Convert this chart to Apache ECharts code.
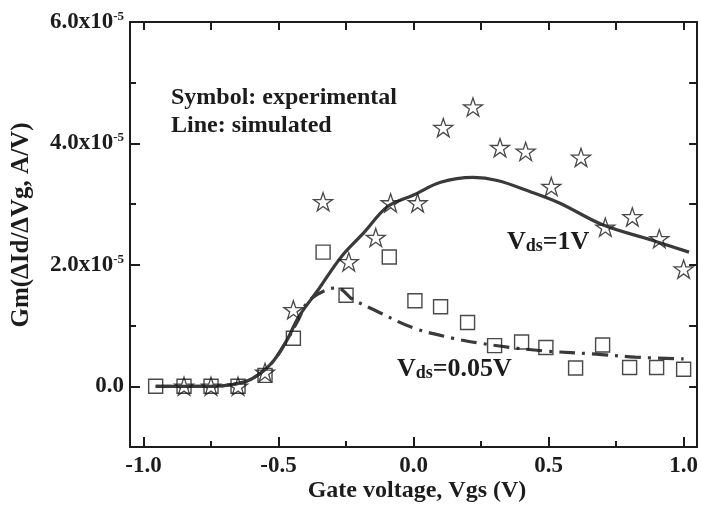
<!DOCTYPE html>
<html><head><meta charset="utf-8">
<script src="https://cdn.jsdelivr.net/npm/echarts@6/dist/echarts.min.js"></script>
<style>html,body{margin:0;padding:0;background:#fff}#c{width:701px;height:510px}</style>
</head><body><div id="c"></div>
<script>
// Experimental points, Vds = 1 V (stars)
const vgsStar = [-0.85, -0.75, -0.65, -0.55, -0.445, -0.335, -0.24, -0.14, -0.085, 0.015, 0.11, 0.22, 0.32, 0.415, 0.51, 0.62, 0.71, 0.81, 0.91, 1.0];
const gmStar  = [0, 0, 0, 0.23e-5, 1.26e-5, 3.04e-5, 2.05e-5, 2.45e-5, 3.02e-5, 3.02e-5, 4.26e-5, 4.6e-5, 3.93e-5, 3.87e-5, 3.29e-5, 3.77e-5, 2.62e-5, 2.79e-5, 2.43e-5, 1.93e-5];
// Experimental points, Vds = 0.05 V (squares)
const vgsSq = [-0.955, -0.85, -0.75, -0.65, -0.55, -0.445, -0.335, -0.25, -0.09, 0.005, 0.1, 0.2, 0.3, 0.4, 0.49, 0.6, 0.7, 0.8, 0.9, 1.0];
const gmSq  = [0, 0, 0, 0, 0.18e-5, 0.79e-5, 2.21e-5, 1.5e-5, 2.13e-5, 1.41e-5, 1.31e-5, 1.05e-5, 0.67e-5, 0.73e-5, 0.64e-5, 0.3e-5, 0.68e-5, 0.31e-5, 0.31e-5, 0.28e-5];
// Simulated curve, Vds = 1 V (solid)
const simVgs1 = [-0.955, -0.85, -0.75, -0.67, -0.6, -0.526, -0.47, -0.426, -0.353, -0.268, -0.184, -0.096, 0.0, 0.1, 0.22, 0.31, 0.43, 0.54, 0.7, 0.88, 1.02];
const simGm1  = [0, 0, 0, 0.03e-5, 0.12e-5, 0.38e-5, 0.75e-5, 1.14e-5, 1.59e-5, 2.13e-5, 2.53e-5, 2.96e-5, 3.15e-5, 3.36e-5, 3.44e-5, 3.39e-5, 3.21e-5, 3.02e-5, 2.66e-5, 2.41e-5, 2.21e-5];
// Simulated curve, Vds = 0.05 V (dash-dot)
const simVgs2 = [-0.955, -0.85, -0.75, -0.67, -0.6, -0.526, -0.47, -0.426, -0.39, -0.316, -0.28, -0.25, -0.232, -0.147, 0.0, 0.147, 0.246, 0.357, 0.49, 0.676, 0.82, 1.0];
const simGm2  = [0, 0, 0, 0.03e-5, 0.12e-5, 0.38e-5, 0.75e-5, 1.1e-5, 1.4e-5, 1.6e-5, 1.62e-5, 1.53e-5, 1.45e-5, 1.26e-5, 0.96e-5, 0.79e-5, 0.71e-5, 0.64e-5, 0.58e-5, 0.53e-5, 0.48e-5, 0.45e-5];
// Ticks
const xMajor = [-1.0, -0.5, 0.0, 0.5, 1.0];
const xMinor = [-0.75, -0.25, 0.25, 0.75];
const yMajor = [0, 2e-5, 4e-5, 6e-5];
const yMinor = [1e-5, 3e-5, 5e-5];

const F = "'Liberation Serif','Times New Roman',serif";
const INK = '#1c1c1c';
const zip = (a, b) => a.map((v, i) => [v, b[i]]);
const STAR = 'path://M50,2 L61.5,37 L98,37 L68.5,58.5 L79.5,94 L50,72 L20.5,94 L31.5,58.5 L2,37 L38.5,37 Z';

const XMIN = -1.05, XMAX = 1.05, YMIN = -1e-5, YMAX = 6e-5;
const lineSt = {color: INK, width: 2};
function xa(extra) {
  return Object.assign({type: 'value', min: XMIN, max: XMAX, gridIndex: 0, splitLine: {show: false},
    axisLine: {show: false, onZero: false, lineStyle: lineSt}, axisLabel: {show: false}, axisTick: {show: false}}, extra);
}
function ya(extra) {
  return Object.assign({type: 'value', min: YMIN, max: YMAX, gridIndex: 0, splitLine: {show: false},
    axisLine: {show: false, onZero: false, lineStyle: lineSt}, axisLabel: {show: false}, axisTick: {show: false}}, extra);
}
const tickSt = {color: INK, width: 2};
const richV = {fontFamily: F, fontWeight: 'bold', fontSize: 26, fill: INK, verticalAlign: 'bottom', lineHeight: 28};
const richD = {fontFamily: F, fontWeight: 'bold', fontSize: 18, fill: INK, verticalAlign: 'bottom', lineHeight: 21};

const chart = echarts.init(document.getElementById('c'), null, {renderer: 'canvas'});
chart.setOption({
  animation: false,
  backgroundColor: '#fff',
  grid: {left: 130, right: 3, top: 22, bottom: 63},
  xAxis: [
    xa({position: 'bottom', axisLine: {show: true, onZero: false, lineStyle: lineSt},
      axisTick: {show: true, inside: true, length: 10, customValues: xMajor, lineStyle: tickSt},
      axisLabel: {show: true, customValues: xMajor, margin: 8, color: INK, fontFamily: F, fontWeight: 'bold', fontSize: 23,
        formatter: v => v.toFixed(1)}}),
    xa({position: 'bottom', axisTick: {show: true, inside: true, length: 6, customValues: xMinor, lineStyle: tickSt}}),
    xa({position: 'top', axisLine: {show: true, onZero: false, lineStyle: lineSt},
      axisTick: {show: true, inside: true, length: 8, customValues: xMajor.concat(xMinor), lineStyle: tickSt}})
  ],
  yAxis: [
    ya({position: 'left', axisLine: {show: true, onZero: false, lineStyle: lineSt},
      axisTick: {show: true, inside: true, length: 10, customValues: yMajor, lineStyle: tickSt},
      axisLabel: {show: true, customValues: yMajor, margin: 6, color: INK, fontFamily: F, fontWeight: 'bold', fontSize: 23,
        formatter: v => Math.abs(v) < 1e-12 ? '{m|0.0}' : '{m|' + (v / 1e-5).toFixed(1) + 'x10}{s|-5}',
        rich: {m: {fontFamily: F, fontWeight: 'bold', fontSize: 23, color: INK, lineHeight: 24},
               s: {fontFamily: F, fontWeight: 'bold', fontSize: 13, color: INK, verticalAlign: 'top', lineHeight: 14}}}}),
    ya({position: 'left', axisTick: {show: true, inside: true, length: 6, customValues: yMinor, lineStyle: tickSt}}),
    ya({position: 'right', axisLine: {show: true, onZero: false, lineStyle: lineSt},
      axisTick: {show: true, inside: true, length: 8, customValues: yMajor.concat(yMinor), lineStyle: tickSt}})
  ],
  series: [
    {type: 'line', name: 'sim 1V', data: zip(simVgs1, simGm1), smooth: 0.35, showSymbol: false, z: 2,
      lineStyle: {color: '#3a3a3a', width: 3.2}},
    {type: 'line', name: 'sim 0.05V', data: zip(simVgs2, simGm2), smooth: 0.35, showSymbol: false, z: 2,
      lineStyle: {color: '#3a3a3a', width: 3.2, type: [16, 7, 3, 7]}},
    {type: 'scatter', name: 'exp 0.05V', data: zip(vgsSq, gmSq), symbol: 'rect', symbolSize: 14, z: 3,
      itemStyle: {color: 'rgba(255,255,255,0)', borderColor: INK, borderWidth: 1.4}},
    {type: 'scatter', name: 'exp 1V', data: zip(vgsStar, gmStar), symbol: STAR, symbolSize: 19, symbolKeepAspect: true, z: 4,
      itemStyle: {color: 'rgba(255,255,255,0)', borderColor: INK, borderWidth: 1.3}}
  ],
  graphic: [
    {type: 'text', left: 171, top: 86, style: {text: 'Symbol: experimental', fill: INK, font: "bold 24px " + F}},
    {type: 'text', left: 171, top: 114, style: {text: 'Line: simulated', fill: INK, font: "bold 24px " + F}},
    {type: 'text', x: 417, y: 491, style: {text: 'Gate voltage, Vgs (V)', fill: INK, font: "bold 24px " + F, align: 'center', verticalAlign: 'middle'}},
    {type: 'text', x: 22, y: 225, rotation: Math.PI / 2,
      style: {text: 'Gm(ΔId/ΔVg, A/V)', fill: INK, font: "bold 25px " + F, align: 'center', verticalAlign: 'middle'}},
    {type: 'text', x: 507, y: 241, style: {text: '{v|V}{d|ds}{v|=1V}', verticalAlign: 'middle', rich: {v: richV, d: richD}}},
    {type: 'text', x: 397, y: 368, style: {text: '{v|V}{d|ds}{v|=0.05V}', verticalAlign: 'middle', rich: {v: richV, d: richD}}}
  ]
});
</script></body></html>
